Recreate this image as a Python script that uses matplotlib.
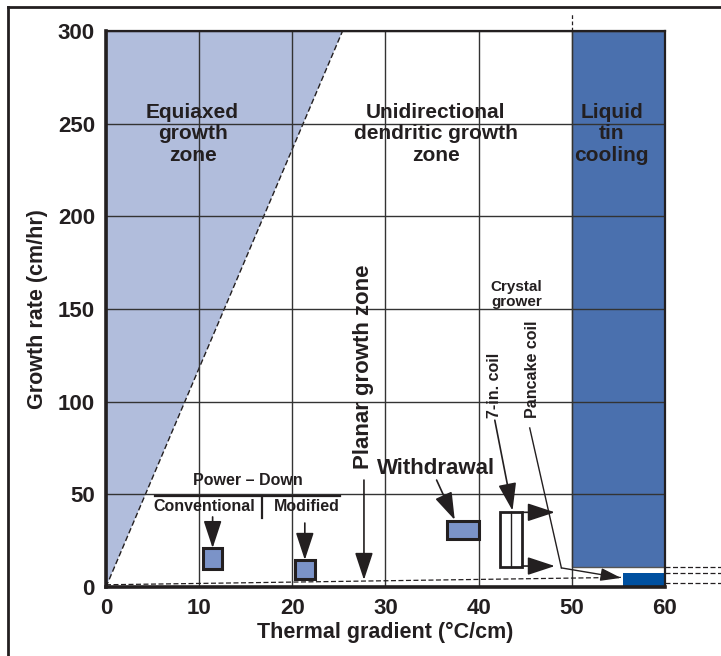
import matplotlib
matplotlib.use('Agg')
import matplotlib.pyplot as plt
from matplotlib.patches import Rectangle, Polygon
from matplotlib.lines import Line2D

plt.rcParams['font.family'] = ['Liberation Sans', 'DejaVu Sans']
plt.rcParams['font.weight'] = 'bold'

# --- data ---
x_ticks = [0, 10, 20, 30, 40, 50, 60]
y_ticks = [0, 50, 100, 150, 200, 250, 300]

# equiaxed zone (triangle above the dashed line)
equiaxed_x = [0, 25.4, 0]
equiaxed_y = [0, 300, 300]

# liquid tin cooling band
tin_x = [50, 60]
tin_y = [11, 300]

# planar growth boundary line
planar_x = [0, 55.5]
planar_y = [1.2, 5.2]

# process boxes: (x0, x1, y0, y1)
conventional_box = (10.4, 12.5, 9.7, 21)
modified_box = (20.3, 22.4, 4.3, 14.6)
withdrawal_box = (36.6, 40.1, 25.9, 35.8)
coil_box = (42.3, 44.7, 11, 40.6)
coil_split = 43.5
pancake_box = (55.5, 60, 0, 7.5)

# dashed levels drawn past the right edge
right_levels = [11, 7.5, 2]

light_blue = '#b1bddc'
mid_blue = '#7b93c8'
tin_blue = '#4a70ae'
dark_blue = '#0050a0'
ink = '#231f20'

fig = plt.figure(figsize=(7.21, 6.56), dpi=100)
ax = fig.add_axes([0.147, 0.1052, 0.775, 0.8475])
ax.set_xlim(0, 60)
ax.set_ylim(0, 300)

# zones
ax.add_patch(Polygon(list(zip(equiaxed_x, equiaxed_y)), closed=True,
                     facecolor=light_blue, edgecolor=ink, ls=(0, (4, 2)),
                     lw=1.0, zorder=1))
ax.add_patch(Rectangle((tin_x[0], tin_y[0]), tin_x[1] - tin_x[0],
                       tin_y[1] - tin_y[0], facecolor=tin_blue,
                       edgecolor='#555555', lw=1.0, zorder=1))
ax.add_patch(Rectangle((pancake_box[0], pancake_box[2]),
                       pancake_box[1] - pancake_box[0],
                       pancake_box[3] - pancake_box[2],
                       facecolor=dark_blue, edgecolor='none', zorder=3))

ax.plot(planar_x, planar_y, color=ink, ls=(0, (4, 2)), lw=0.9, zorder=3)

# grid on top of fills
ax.set_xticks(x_ticks)
ax.set_yticks(y_ticks)
ax.grid(True, color='#333333', lw=1.0, zorder=2)
ax.set_axisbelow(False)
for gl in ax.get_xgridlines() + ax.get_ygridlines():
    gl.set_zorder(2)

ax.tick_params(length=0, labelsize=16, pad=8)
for lbl in ax.get_xticklabels() + ax.get_yticklabels():
    lbl.set_fontweight('bold')
    lbl.set_color(ink)

for side in ['left', 'bottom']:
    ax.spines[side].set_linewidth(2.6)
for side in ['top', 'right']:
    ax.spines[side].set_linewidth(1.6)
for s in ax.spines.values():
    s.set_color(ink)
    s.set_zorder(6)

ax.set_xlabel('Thermal gradient (°C/cm)', fontsize=15.5, fontweight='bold',
              color=ink, labelpad=2)
ax.set_ylabel('Growth rate (cm/hr)', fontsize=15.5, fontweight='bold',
              color=ink, labelpad=7)

# process boxes
for (x0, x1, y0, y1) in [conventional_box, modified_box, withdrawal_box]:
    ax.add_patch(Rectangle((x0, y0), x1 - x0, y1 - y0, facecolor=mid_blue,
                           edgecolor=ink, lw=2.2, zorder=4))
ax.add_patch(Rectangle((coil_box[0], coil_box[2]), coil_box[1] - coil_box[0],
                       coil_box[3] - coil_box[2], facecolor='white',
                       edgecolor=ink, lw=2.0, zorder=4))
ax.plot([coil_split, coil_split], [coil_box[2], coil_box[3]], color=ink,
        lw=1.0, zorder=4)

# dashed extensions
for lev in right_levels:
    ax.plot([60, 66], [lev, lev], color=ink, ls=(0, (4, 2)), lw=0.9,
            clip_on=False, zorder=3)
ax.plot([50, 50], [300, 309.7], color=ink, ls=(0, (3, 2)), lw=0.9,
        clip_on=False)

# zone titles
title_kw = dict(fontsize=15, fontweight='bold', color=ink, ha='center',
                va='center', linespacing=1.15, zorder=5)
ax.text(9.3, 244.5, 'Equiaxed\ngrowth\nzone', **title_kw)
ax.text(35.4, 244.5, 'Unidirectional\ndendritic growth\nzone', **title_kw)
ax.text(54.3, 244.5, 'Liquid\ntin\ncooling', **title_kw)

ax.text(27.6, 118.7, 'Planar growth zone', rotation=90, fontsize=16,
        fontweight='bold', color=ink, ha='center', va='center', zorder=5)
ax.text(35.4, 64.2, 'Withdrawal', fontsize=16, fontweight='bold', color=ink,
        ha='center', va='center', zorder=5)

# power-down group
ax.text(15.2, 57.2, 'Power – Down', fontsize=11.5, fontweight='bold',
        color=ink, ha='center', va='center', zorder=5)
ax.plot([5.26, 25.1], [49.3, 49.3], color=ink, lw=1.6, zorder=5)
ax.plot([16.7, 16.7], [49.3, 37.2], color=ink, lw=1.6, zorder=5)
ax.text(10.6, 43.2, 'Conventional', fontsize=11.5, fontweight='bold',
        color=ink, ha='center', va='center', zorder=5)
ax.text(21.6, 43.2, 'Modified', fontsize=11.5, fontweight='bold',
        color=ink, ha='center', va='center', zorder=5)

# crystal grower
ax.text(44.1, 157.8, 'Crystal\ngrower', fontsize=11, fontweight='bold',
        color=ink, ha='center', va='center', linespacing=1.1, zorder=5)
ax.text(41.75, 91.2, '7-in. coil', rotation=90, rotation_mode='anchor',
        fontsize=11.5, fontweight='bold', color=ink, ha='left', va='center',
        zorder=5)
ax.text(45.8, 91.2, 'Pancake coil', rotation=90, rotation_mode='anchor',
        fontsize=11.5, fontweight='bold', color=ink, ha='left', va='center',
        zorder=5)

# arrows
big = dict(arrowstyle='-|>,head_length=0.85,head_width=0.28', color=ink,
           lw=1.2, shrinkA=0, shrinkB=0, mutation_scale=20)
small = dict(arrowstyle='-|>,head_length=0.7,head_width=0.22', color=ink,
             lw=1.0, shrinkA=0, shrinkB=0, mutation_scale=18)

def arrow(start, end, props):
    ax.annotate('', xy=end, xytext=start, arrowprops=props, zorder=5)

arrow((11.45, 37.8), (11.45, 21), big)
arrow((21.35, 34.5), (21.35, 14.6), big)
arrow((27.7, 57.7), (27.7, 3.8), big)
arrow((35.5, 57.7), (37.45, 36.2), big)
arrow((41.75, 90), (43.65, 41.2), big)
arrow((44.7, 40.3), (48.2, 40.3), big)
arrow((44.7, 11.3), (48.2, 11.3), big)
ax.plot([45.5, 48.9], [85.8, 10.3], color=ink, lw=1.0, zorder=5)
arrow((48.9, 10.3), (55.3, 4.9), small)

# outer frame of the figure
fig.add_artist(Line2D([8 / 721, 8 / 721], [0, 1 - 7 / 656], color=ink,
                      lw=2.0, transform=fig.transFigure))
fig.add_artist(Line2D([8 / 721, 1], [1 - 7 / 656, 1 - 7 / 656], color=ink,
                      lw=2.0, transform=fig.transFigure))

fig.savefig('out.png', dpi=100)
